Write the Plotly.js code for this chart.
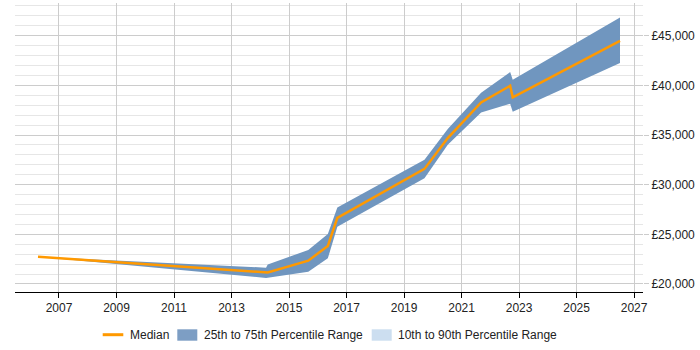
<!DOCTYPE html>
<html>
<head>
<meta charset="utf-8">
<script src="https://cdn.plot.ly/plotly-3.0.1.min.js"></script>
<style>
  html, body { margin: 0; padding: 0; background: #fff; }
  #chart { width: 700px; height: 350px; }
</style>
</head>
<body>
<div id="chart"></div>
<script>
// Salary trend: dates as decimal years
const dates   = [2006.27, 2014.20, 2014.26, 2015.67, 2016.35, 2016.68, 2019.71, 2020.52, 2021.68, 2022.69, 2022.78, 2026.51];
const median  = [22750, 21140, 21160, 22350, 23830, 26650, 31590, 34690, 38280, 39960, 38800, 44490];
const pct75   = [22750, 21640, 21950, 23430, 25040, 27700, 32500, 35600, 39250, 41340, 40560, 46840];
const pct25   = [22750, 20600, 20620, 21240, 22590, 25750, 30650, 34010, 37270, 38150, 37340, 42250];
const xTicks  = [2007, 2009, 2011, 2013, 2015, 2017, 2019, 2021, 2023, 2025, 2027];
const legendLabels = ['Median', '25th to 75th Percentile Range', '10th to 90th Percentile Range'];

const W = 700, H = 350;
const M = { l: 15, r: 57, t: 3, b: 58 };
const bandColor = 'rgb(112,150,191)';
const outerColor = 'rgb(204,222,240)';
const medianColor = 'rgb(255,153,0)';

// pixel -> paper coordinates for the legend drawn below the plot
const px = x => (x - M.l) / (W - M.l - M.r);
const py = y => (H - M.b - y) / (H - M.t - M.b);

// closed polygon for the interquartile band
const bandX = dates.concat(dates.slice().reverse());
const bandY = pct75.concat(pct25.slice().reverse());

const traces = [
  {
    x: bandX, y: bandY, type: 'scatter', mode: 'none',
    fill: 'toself', fillcolor: bandColor, hoverinfo: 'skip'
  },
  {
    x: dates, y: median, type: 'scatter', mode: 'lines',
    line: { color: medianColor, width: 2.5 }
  }
];

const legendY = 334.5;
const shapes = [
  { type: 'line', xref: 'paper', yref: 'paper',
    x0: px(102.7), x1: px(123.3), y0: py(334.7), y1: py(334.7),
    line: { color: medianColor, width: 3 } },
  { type: 'rect', xref: 'paper', yref: 'paper',
    x0: px(177.3), x1: px(197.3), y0: py(340.7), y1: py(329.3),
    fillcolor: 'rgb(125,158,196)', line: { width: 0 } },
  { type: 'rect', xref: 'paper', yref: 'paper',
    x0: px(371.7), x1: px(391.7), y0: py(340.7), y1: py(329.3),
    fillcolor: outerColor, line: { width: 0 } }
];
const textX = [127.5, 202, 396];
const annotations = legendLabels.map((t, i) => ({
  text: t, xref: 'paper', yref: 'paper', x: px(textX[i]), y: py(legendY),
  xanchor: 'left', yanchor: 'middle', showarrow: false,
  font: { size: 12, color: '#222' }
}));

const layout = {
  width: W, height: H,
  margin: M,
  paper_bgcolor: '#fff', plot_bgcolor: '#fff',
  font: { family: 'Arial, "Liberation Sans", sans-serif', size: 12, color: '#222' },
  showlegend: false,
  shapes: shapes,
  annotations: annotations,
  xaxis: {
    range: [2005.47, 2027.31],
    tickvals: xTicks, ticktext: xTicks.map(String),
    ticks: 'outside', ticklen: 5, tickcolor: '#000',
    showline: true, linecolor: '#000', linewidth: 1,
    showgrid: true, gridcolor: '#cccccc', gridwidth: 1,
    zeroline: false, fixedrange: true
  },
  yaxis: {
    side: 'right',
    range: [19190, 48300],
    dtick: 5000, tick0: 0,
    tickprefix: '£', tickformat: ',d',
    ticks: 'outside', ticklen: 5, tickcolor: '#ccc',
    showgrid: true, gridcolor: '#cccccc', gridwidth: 1,
    minor: { dtick: 1000, showgrid: true, gridcolor: '#e6e6e6', gridwidth: 1 },
    showline: false, zeroline: false, fixedrange: true
  }
};

Plotly.newPlot('chart', traces, layout, { displayModeBar: false, staticPlot: true });
</script>
</body>
</html>
